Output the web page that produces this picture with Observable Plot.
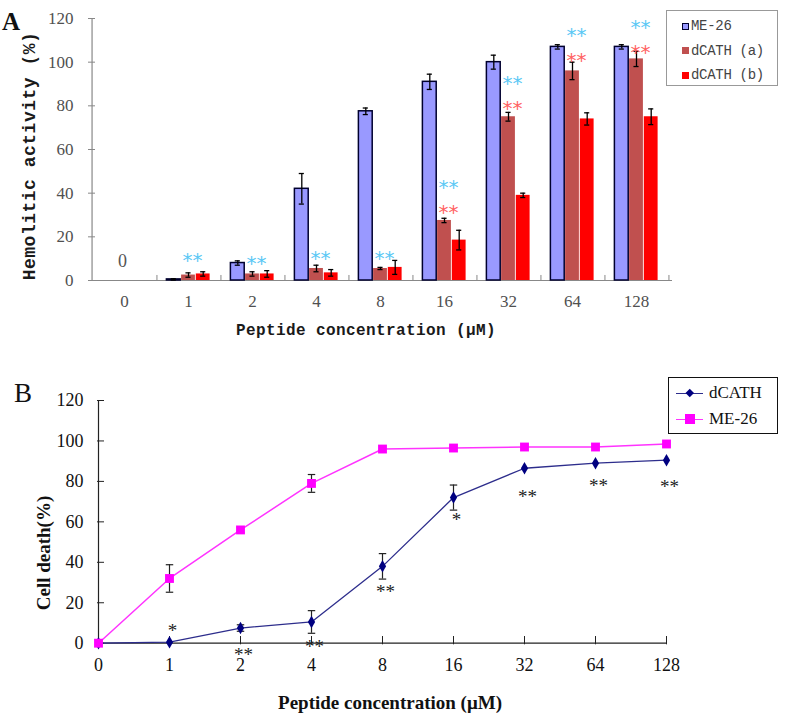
<!DOCTYPE html>
<html><head><meta charset="utf-8">
<script src="https://cdn.jsdelivr.net/npm/d3@7"></script>
<script src="https://cdn.jsdelivr.net/npm/@observablehq/plot@0.6"></script>
<style>
body{margin:0;background:#fff;}
#wrap{position:relative;width:787px;height:718px;overflow:hidden;background:#fff;}
.panel{position:absolute;left:0;}
.lbl{position:absolute;white-space:nowrap;}
</style></head><body><div id="wrap"></div>
<script>
// ---------- Panel A data ----------
const concA = ["0","1","2","4","8","16","32","64","128"];
const seriesA = ["ME-26","dCATH (a)","dCATH (b)"];
const me26A     = [0, 0.5, 8, 42, 77.5, 91, 100, 107, 107];
const me26AErr  = [0, 0.3, 1, 7, 1.5, 3.5, 3.2, 1, 1];
const dcathAa    = [0, 2.5, 3, 5.5, 5.5, 27.5, 75, 96, 101.5];
const dcathAaErr = [0, 1, 1, 1.5, 0.5, 1, 2, 4, 3.5];
const dcathAb    = [0, 3, 3, 3.5, 6, 18.5, 39, 74, 75];
const dcathAbErr = [0, 1, 1.5, 1.5, 3.2, 4.5, 1, 2.8, 3.6];
const starsBlueA = [null, 11.5, 10, 12.4, 12.4, 45, 92.5, 114.5, 118];
const starsRedA  = [null, null, null, null, null, 33.5, 81, 103, 106.7];
const zeroLabelA = [{cat: "0", y: 9, t: "0"}];
const yTicksA = [0, 20, 40, 60, 80, 100, 120];

// ---------- Panel B data ----------
const concB = ["0","1","2","4","8","16","32","64","128"];
const dcathB    = [0, 0.5, 7.5, 10.5, 38, 72, 86.5, 89, 90.5];
const dcathBErr = [0, 0, 1.6, 5.6, 6.3, 6.2, 0, 0, 0];
const me26B     = [0, 32, 56, 79, 96, 96.5, 97, 97, 98.5];
const me26BErr  = [0, 6.8, 1.2, 4.4, 0, 0, 0, 0, 0];
const starsB    = ["", "*", "**", "**", "**", "*", "**", "**", "**"];
const starsBY   = [null, 7.3, -4.6, -0.6, 26.6, 62.2, 73.5, 78.9, 78.4];
const yTicksB = [0, 20, 40, 60, 80, 100, 120];

const W = 787;
const wrap = document.getElementById("wrap");

// ---------- Panel A ----------
const A = {h: 345, mt: 18, mb: 65, ml: 88, mr: 115};
const plotWA = W - A.ml - A.mr;
const bw = plotWA / concA.length;
const barW = 14.7;
const barInset = (bw - barW) / 2;
const capInsetA = (bw - 6) / 2;
const offs = [-barW, 0, barW];
const cols = [
  {v: me26A, e: me26AErr, fill: "#9999ff", stroke: "#00002e", sw: 1.5},
  {v: dcathAa, e: dcathAaErr, fill: "#c0504f", stroke: "none", sw: 0},
  {v: dcathAb, e: dcathAbErr, fill: "#ff0000", stroke: "none", sw: 0}
];
const marksA = [
  Plot.tickY(yTicksA, {y: d => d, insetRight: plotWA - 7, stroke: "#888"}),
  Plot.ruleY([0], {stroke: "#888", strokeWidth: 1.2}),
  Plot.ruleX([concA[0]], {x: d => d, dx: -bw / 2, y1: 0, y2: 120, stroke: "#888", strokeWidth: 1.2}),
  Plot.ruleX(concA, {x: d => d, dx: bw / 2, y1: 0, y2: 2.3, stroke: "#888"})
];
cols.forEach((c, k) => {
  const rows = concA.map((cat, i) => ({cat, v: c.v[i], e: c.e[i]}));
  const er = rows.filter(r => r.e > 0);
  marksA.push(Plot.barY(rows, {x: "cat", y: "v", fill: c.fill, stroke: c.stroke, strokeWidth: c.sw,
    insetLeft: barInset, insetRight: barInset, dx: offs[k]}));
  marksA.push(Plot.ruleX(er, {x: "cat", y1: d => d.v - d.e, y2: d => d.v + d.e, dx: offs[k], stroke: "#000", strokeWidth: 1.3}));
  marksA.push(Plot.tickY(er, {x: "cat", y: d => d.v + d.e, insetLeft: capInsetA, insetRight: capInsetA, dx: offs[k], stroke: "#000", strokeWidth: 1.3}));
  marksA.push(Plot.tickY(er, {x: "cat", y: d => d.v - d.e, insetLeft: capInsetA, insetRight: capInsetA, dx: offs[k], stroke: "#000", strokeWidth: 1.3}));
});
const blueRows = concA.map((cat, i) => ({cat, y: starsBlueA[i]})).filter(d => d.y != null);
const redRows = concA.map((cat, i) => ({cat, y: starsRedA[i]})).filter(d => d.y != null);
marksA.push(Plot.text(blueRows, {x: "cat", y: "y", text: () => "**", fill: "#5ac8f5", dx: 4, dy: 5, fontFamily: "DejaVu Sans", fontSize: 20}));
marksA.push(Plot.text(redRows, {x: "cat", y: "y", text: () => "**", fill: "#ff6262", dx: 4, dy: 5, fontFamily: "DejaVu Sans", fontSize: 20}));
marksA.push(Plot.text(zeroLabelA, {x: "cat", y: "y", text: "t", fill: "#555", fontFamily: "Liberation Serif", fontSize: 18, dx: -2}));

const plotA = Plot.plot({
  width: W, height: A.h, marginTop: A.mt, marginBottom: A.mb, marginLeft: A.ml, marginRight: A.mr,
  x: {domain: concA, padding: 0, label: null, tickSize: 0, tickPadding: 14},
  y: {domain: [0, 120], ticks: yTicksA, label: null, tickSize: 0, tickPadding: 15},
  style: "font-family: 'Liberation Serif'; font-size: 17px; color: #505050; background: white; overflow: visible;",
  marks: marksA
});
plotA.classList.add("panel");
plotA.style.top = "0px";
wrap.appendChild(plotA);

// ---------- Panel B ----------
const B = {top: 360, h: 358, mt: 40, mb: 75.3, ml: 97, mr: 121};
const plotWB = W - B.ml - B.mr;
const rowsB = concB.map((cat, i) => ({cat, d: dcathB[i], dE: dcathBErr[i], m: me26B[i], mE: me26BErr[i]}));
const erD = rowsB.filter(r => r.dE > 0);
const erM = rowsB.filter(r => r.mE > 0);
const starRowsB = concB.map((cat, i) => ({cat, t: starsB[i], y: starsBY[i]})).filter(r => r.y != null);
// horizontal-line symbol for error-bar caps
const capSymbol = {draw(ctx, size) { const w = Math.sqrt(size); ctx.moveTo(-w / 2, 0); ctx.lineTo(w / 2, 0); }};
const capOpts = {symbol: capSymbol, r: 4.2, fill: "none", stroke: "#222", strokeWidth: 1.2};
const plotB = Plot.plot({
  width: W, height: B.h, marginTop: B.mt, marginBottom: B.mb, marginLeft: B.ml, marginRight: B.mr,
  x: {type: "point", domain: concB, padding: 0, label: null, tickSize: 0, tickPadding: 15},
  y: {domain: [0, 120], ticks: yTicksB, label: null, tickSize: 0, tickPadding: 14},
  style: "font-family: 'Liberation Serif'; font-size: 18px; color: #111; background: white; overflow: visible;",
  marks: [
    Plot.tickY(yTicksB, {y: d => d, insetRight: plotWB - 7, stroke: "#222"}),
    Plot.ruleY([0], {stroke: "#222", strokeWidth: 1.2}),
    Plot.ruleX([concB[0]], {x: d => d, y1: 0, y2: 120, stroke: "#222", strokeWidth: 1.2}),
    Plot.ruleX(concB.slice(1), {x: d => d, y1: -0.8, y2: 3.3, stroke: "#222"}),
    Plot.line(rowsB, {x: "cat", y: "m", stroke: "#ff33ff", strokeWidth: 1.5}),
    Plot.line(rowsB, {x: "cat", y: "d", stroke: "#2d2d8c", strokeWidth: 1.3}),
    Plot.ruleX(erM, {x: "cat", y1: d => d.m - d.mE, y2: d => d.m + d.mE, stroke: "#222", strokeWidth: 1.2}),
    Plot.dot(erM, {x: "cat", y: d => d.m + d.mE, ...capOpts}),
    Plot.dot(erM, {x: "cat", y: d => d.m - d.mE, ...capOpts}),
    Plot.ruleX(erD, {x: "cat", y1: d => d.d - d.dE, y2: d => d.d + d.dE, stroke: "#222", strokeWidth: 1.2}),
    Plot.dot(erD, {x: "cat", y: d => d.d + d.dE, ...capOpts}),
    Plot.dot(erD, {x: "cat", y: d => d.d - d.dE, ...capOpts}),
    Plot.dot(rowsB, {x: "cat", y: "d", symbol: "diamond", r: 3.8, fill: "#000080", stroke: "none"}),
    Plot.dot(rowsB, {x: "cat", y: "m", symbol: "square", r: 5, fill: "#ff00ff", stroke: "none"}),
    Plot.text(starRowsB, {x: "cat", y: "y", text: "t", dx: 3, dy: 2.5, fill: "#222", fontFamily: "Liberation Serif", fontSize: 19})
  ]
});
plotB.classList.add("panel");
plotB.style.top = B.top + "px";
wrap.appendChild(plotB);

// ---------- Labels & legends (HTML) ----------
function label(text, o) {
  const d = document.createElement("div");
  d.className = "lbl";
  d.textContent = text;
  d.style.font = `${o.weight || "normal"} ${o.size}px ${o.family}`;
  d.style.lineHeight = o.size + "px";
  d.style.color = o.color || "#000";
  if (o.ls) d.style.letterSpacing = o.ls + "px";
  d.style.left = o.x + "px";
  d.style.top = o.y + "px";
  d.style.transform = o.rotate ? "translate(-50%,-50%) rotate(-90deg)" : (o.center ? "translate(-50%,-50%)" : "none");
  wrap.appendChild(d);
  return d;
}
label("A", {x: 2, y: 9, size: 25, family: "'Liberation Serif'", weight: "bold", color: "#111"});
label("Hemolitic activity (%)", {x: 30, y: 156, size: 18, family: "'Liberation Mono'", weight: "bold", color: "#1a1a1a", rotate: true, ls: 0.5});
label("Peptide concentration (μM)", {x: 366, y: 331, size: 16, family: "'Liberation Mono'", weight: "bold", color: "#1a1a1a", center: true, ls: 0.4});
label("B", {x: 14, y: 380, size: 27, family: "'Liberation Serif'", color: "#111"});
label("Cell death(%)", {x: 43, y: 553, size: 19, family: "'Liberation Serif'", weight: "bold", color: "#111", rotate: true});
label("Peptide concentration (μM)", {x: 390, y: 702, size: 19, family: "'Liberation Serif'", weight: "bold", color: "#111", center: true});

// Legend A
const legA = document.createElement("div");
legA.style.cssText = "position:absolute;left:666px;top:10px;width:112px;height:76px;border:1px solid #999;box-sizing:border-box;background:#fff;";
wrap.appendChild(legA);
const legAStyles = [
  {fill: "#9999ff", border: "1.5px solid #00002e"},
  {fill: "#c0504f", border: "none"},
  {fill: "#ff0000", border: "none"}
];
seriesA.forEach((s, i) => {
  const row = document.createElement("div");
  row.style.cssText = `position:absolute;left:15px;top:${6 + i * 24.5}px;height:18px;display:flex;align-items:center;`;
  const sw = document.createElement("span");
  sw.style.cssText = `display:inline-block;width:7px;height:7px;box-sizing:border-box;background:${legAStyles[i].fill};border:${legAStyles[i].border};margin-right:2px;`;
  const t = document.createElement("span");
  t.textContent = s;
  t.style.cssText = "font:14px 'Liberation Mono';color:#444;white-space:nowrap;letter-spacing:-0.3px;";
  row.appendChild(sw); row.appendChild(t);
  legA.appendChild(row);
});

// Legend B
const seriesB = [{name: "dCATH", color: "#2d2d8c", mk: "#000080", shape: "diamond"}, {name: "ME-26", color: "#ff33ff", mk: "#ff00ff", shape: "square"}];
const legB = document.createElement("div");
legB.style.cssText = "position:absolute;left:668px;top:377px;width:110px;height:57px;border:1.5px solid #111;box-sizing:border-box;background:#fff;";
wrap.appendChild(legB);
seriesB.forEach((s, i) => {
  const row = document.createElement("div");
  row.style.cssText = `position:absolute;left:7px;top:${5 + i * 26}px;height:20px;width:100px;`;
  const ln = document.createElement("span");
  ln.style.cssText = `position:absolute;left:0;top:9.5px;width:27px;height:0;border-top:1.5px solid ${s.color};`;
  const mk = document.createElement("span");
  if (s.shape === "square") mk.style.cssText = `position:absolute;left:9px;top:5px;width:10px;height:10px;background:${s.mk};`;
  else mk.style.cssText = `position:absolute;left:11px;top:7px;width:5.5px;height:5.5px;background:${s.mk};transform:rotate(45deg);`;
  const t = document.createElement("span");
  t.textContent = s.name;
  t.style.cssText = "position:absolute;left:33px;top:0;font:17px 'Liberation Serif';line-height:20px;color:#111;white-space:nowrap;";
  row.appendChild(ln); row.appendChild(mk); row.appendChild(t);
  legB.appendChild(row);
});
</script></body></html>
